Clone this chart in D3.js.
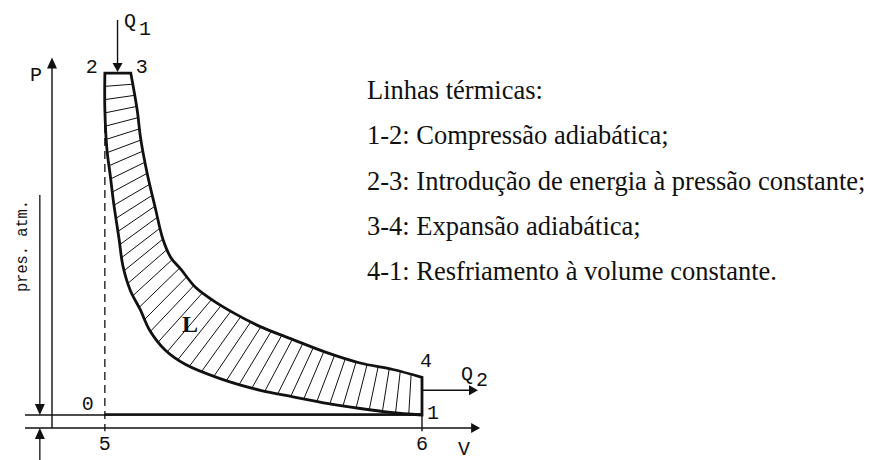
<!DOCTYPE html>
<html><head><meta charset="utf-8">
<script src="https://cdn.jsdelivr.net/npm/d3@7"></script>
<style>html,body{margin:0;padding:0;background:#fff;} svg{display:block;}</style>
</head><body>
<svg id="chart" width="876" height="460"></svg>
<script>
// ---- data (V, P in arbitrary diagram units) ----
// 1-2 adiabatic compression, listed from point 2 down to point 1
const compressionV = [1.00,1.00,1.04,1.10,1.17,1.27,1.34,1.48,1.67,1.85,2.14,2.52,3.18,3.94,4.56,5.20,5.83,6.40,7.00];
const compressionP = [27.3,24.5,21.4,19.5,17.2,14.5,12.5,10.6,9.1,7.5,6.0,4.9,3.8,2.9,2.4,1.9,1.5,1.2,1.0];
// 3-4 adiabatic expansion, listed from point 3 to point 4
const expansionV = [1.49,1.61,1.68,1.80,1.95,2.10,2.25,2.44,2.72,3.05,3.46,3.94,4.56,5.20,5.83,6.45,7.00];
const expansionP = [27.3,24.5,22.2,19.6,17.0,14.5,13.1,12.2,10.8,9.8,8.8,7.8,6.8,5.8,5.0,4.5,3.9];
const pointNames = ["1","2","3","4"];
const pointV = [7.00, 1.00, 1.49, 7.00];
const pointP = [1.0, 27.3, 27.3, 3.9];
const atmP = 1.0;            // line 0-1
const axisLabels = ["P","V"];
const baseLabels = ["0","5","6"];
const legendTitle = "Linhas térmicas:";
const legendLines = [
  "1-2: Compressão adiabática;",
  "2-3: Introdução de energia à pressão constante;",
  "3-4: Expansão adiabática;",
  "4-1: Resfriamento à volume constante."
];

const svg = d3.select("#chart");
svg.append("rect").attr("width",876).attr("height",460).attr("fill","#fff");
const x = d3.scaleLinear().domain([0,7]).range([52,422]);
const y = d3.scaleLinear().domain([0,28]).range([428,64]);

const comp = compressionV.map((v,i)=>[v, compressionP[i]]);
const exp = expansionV.map((v,i)=>[v, expansionP[i]]);
const line = d3.line().x(d=>x(d[0])).y(d=>y(d[1])).curve(d3.curveCatmullRom.alpha(0.5));

const ink = "#111";
function tri(g, tipX, tipY, dir, len, half){
  let pts;
  if(dir==="up") pts=[[tipX,tipY],[tipX-half,tipY+len],[tipX+half,tipY+len]];
  else if(dir==="down") pts=[[tipX,tipY],[tipX-half,tipY-len],[tipX+half,tipY-len]];
  else pts=[[tipX,tipY],[tipX-len,tipY-half],[tipX-len,tipY+half]];
  g.append("path").attr("d","M"+pts.map(p=>p.join(",")).join("L")+"Z").attr("fill",ink);
}

const g = svg.append("g");
// axes
g.append("line").attr("x1",x(0)).attr("x2",x(0)).attr("y1",y(0)).attr("y2",y(28.5)+8)
  .attr("stroke",ink).attr("stroke-width",1.4);
tri(g, x(0), y(28.5), "up", 11, 5);
g.append("line").attr("x1",x(-0.51)).attr("x2",x(8.1)-8).attr("y1",y(0)).attr("y2",y(0))
  .attr("stroke",ink).attr("stroke-width",1.4);
tri(g, x(8.1), y(0), "right", 9, 5);
// atmospheric line 0
g.append("line").attr("x1",x(-0.51)).attr("x2",x(7)).attr("y1",y(atmP)).attr("y2",y(atmP))
  .attr("stroke",ink).attr("stroke-width",1.4);
// dimension line "pres. atm."
const dimX = x(-0.23);
g.append("line").attr("x1",dimX).attr("x2",dimX).attr("y1",195).attr("y2",y(atmP)-6)
  .attr("stroke",ink).attr("stroke-width",1.3);
tri(g, dimX, y(atmP), "down", 11, 5);
g.append("line").attr("x1",dimX).attr("x2",dimX).attr("y1",y(0)+6).attr("y2",460)
  .attr("stroke",ink).attr("stroke-width",1.3);
tri(g, dimX, y(0), "up", 11, 5);
// dashed vertical at V of point 2
g.append("line").attr("x1",x(1)).attr("x2",x(1)).attr("y1",y(27.3)).attr("y2",y(-0.25))
  .attr("stroke",ink).attr("stroke-width",1.3).attr("stroke-dasharray","8,5");
// vertical 4-1 and down to V axis
g.append("line").attr("x1",x(7)).attr("x2",x(7)).attr("y1",y(3.9)).attr("y2",y(-0.25))
  .attr("stroke",ink).attr("stroke-width",1.4);

// hatch lines
const lowerPath = g.append("path").attr("d", line(comp)).attr("fill","none").attr("stroke","none");
const upperPath = g.append("path").attr("d", line(exp)).attr("fill","none").attr("stroke","none");
const L1 = lowerPath.node().getTotalLength(), L2 = upperPath.node().getTotalLength();
const N = 42;
for(let i=1;i<N;i++){
  const t=i/N;
  const a=lowerPath.node().getPointAtLength(t*L1), b=upperPath.node().getPointAtLength(t*L2);
  g.append("line").attr("x1",a.x).attr("y1",a.y).attr("x2",b.x).attr("y2",b.y)
    .attr("stroke",ink).attr("stroke-width",1);
}
// outline of cycle
const upRev = line(exp.slice().reverse()).replace(/^M/,"L");
g.append("path").attr("d", line(comp) + "L" + x(7) + "," + y(3.9) + upRev + "Z")
  .attr("fill","none").attr("stroke",ink).attr("stroke-width",2.8).attr("stroke-linejoin","miter");
// thick 0-1 line
g.append("line").attr("x1",x(1)).attr("x2",x(7)).attr("y1",y(atmP)-0.5).attr("y2",y(atmP)-0.5)
  .attr("stroke",ink).attr("stroke-width",2.6);

// Q1 and Q2 arrows
g.append("line").attr("x1",x(1.24)).attr("x2",x(1.24)).attr("y1",20).attr("y2",y(27.3)-8)
  .attr("stroke",ink).attr("stroke-width",1.4);
tri(g, x(1.24), y(27.3)-1, "down", 9, 5);
g.append("line").attr("x1",x(7)).attr("x2",x(8.06)-8).attr("y1",y(2.9)).attr("y2",y(2.9))
  .attr("stroke",ink).attr("stroke-width",1.4);
tri(g, x(8.06), y(2.9), "right", 9, 5);

// labels
const mono = "'Liberation Mono', 'DejaVu Sans Mono', monospace";
function lab(txt, px, py, size, anchor){
  g.append("text").attr("x",px).attr("y",py).attr("text-anchor",anchor||"middle")
   .attr("font-family",mono).attr("font-size",size||20).attr("fill",ink).text(txt);
}
const offs = {"1":[11,4],"2":[-13,0],"3":[11,0],"4":[4,-10]};
pointNames.forEach((n,i)=>lab(n, x(pointV[i])+offs[n][0], y(pointP[i])+offs[n][1]));
lab(baseLabels[0], x(1)-17, y(atmP)-5);
lab(baseLabels[1], x(1), y(0)+22);
lab(baseLabels[2], x(7), y(0)+22);
lab(axisLabels[0], x(0)-16, 81);
lab(axisLabels[1], x(7)+42, 455);
lab("Q", 130, 27); lab("1", 145, 35);
lab("Q", 467, 380); lab("2", 482, 386);
g.append("text").attr("transform","translate(27,246) rotate(-90)").attr("text-anchor","middle")
  .attr("font-family",mono).attr("font-size",17).attr("textLength",92).attr("lengthAdjust","spacingAndGlyphs")
  .attr("fill",ink).text("pres. atm.");
g.append("text").attr("x",190).attr("y",332).attr("text-anchor","middle")
  .attr("font-family","'Liberation Serif', 'Times New Roman', serif").attr("font-weight","bold")
  .attr("font-size",24).attr("fill",ink).text("L");

// legend text
const serif = "'Liberation Serif', 'Times New Roman', serif";
const lg = svg.append("g").attr("font-family",serif).attr("font-size",26.5).attr("fill",ink);
[legendTitle].concat(legendLines).forEach((s,i)=>{
  lg.append("text").attr("x",367).attr("y",99+i*45.3).text(s);
});
</script>
</body></html>
